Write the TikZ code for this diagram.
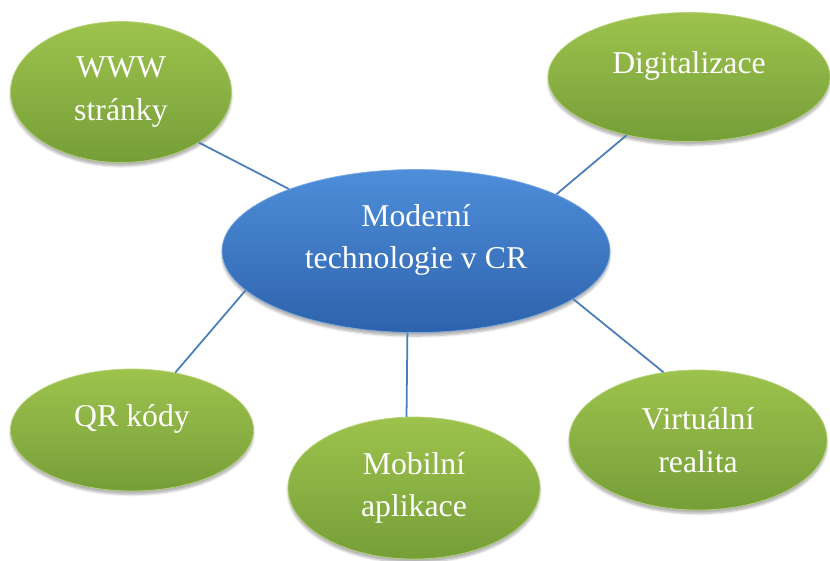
\documentclass[tikz,border=0pt]{standalone}
\usepackage{fontspec}
\setmainfont{Liberation Serif}
\usetikzlibrary{shapes.geometric}
\usetikzlibrary{shadows.blur}

\definecolor{leaf}{RGB}{157,195,77}
\definecolor{leafdark}{RGB}{118,158,56}
\definecolor{sky}{RGB}{78,142,218}
\definecolor{skydark}{RGB}{46,98,172}
\definecolor{wire}{RGB}{74,126,187}

\tikzset{
  bubble/.style={ellipse, inner sep=0pt, align=center, text=white,
    font=\fontsize{27pt}{36pt}\selectfont,
    top color=leaf, bottom color=leafdark, draw=leaf!75!white, line width=0.6pt,
    blur shadow={shadow xshift=0pt, shadow yshift=-3pt, shadow blur steps=6, shadow opacity=30}},
  hub/.style={bubble, top color=sky, bottom color=skydark, draw=sky!75!white},
  px size/.style 2 args={minimum width=#1*0.85pt, minimum height=#2*0.85pt},
  lift/.style={text depth=25pt},
  link/.style={wire, line width=1.5pt},
}

\begin{document}
\begin{tikzpicture} [x=0.85pt, y=-0.85pt]
\useasboundingbox (0,0) rectangle (830,560);

% center and the five topics
\node[hub, lift, px size={388}{163}] (cr) at (416,251) {Moderní\\technologie v CR};
\node[bubble, px size={221}{141}] (www) at (121,92) {WWW\\stránky};
\node[bubble, lift, px size={282}{129}] (dig) at (689,77) {Digitalizace};
\node[bubble, lift, px size={243}{122}] (qr) at (132,430) {QR kódy};
\node[bubble, px size={252}{142}] (mob) at (414,488) {Mobilní\\aplikace};
\node[bubble, px size={258}{140}] (vr) at (698,440) {Virtuální\\realita};

\draw[link] (www.327) -- (cr.154);
\draw[link] (dig.223) -- (cr.22);
\draw[link] (qr.53) -- (cr.193);
\draw[link] (mob.96) -- (cr.264);
\draw[link] (vr.117) -- (cr.343);

\end{tikzpicture}
\end{document}
